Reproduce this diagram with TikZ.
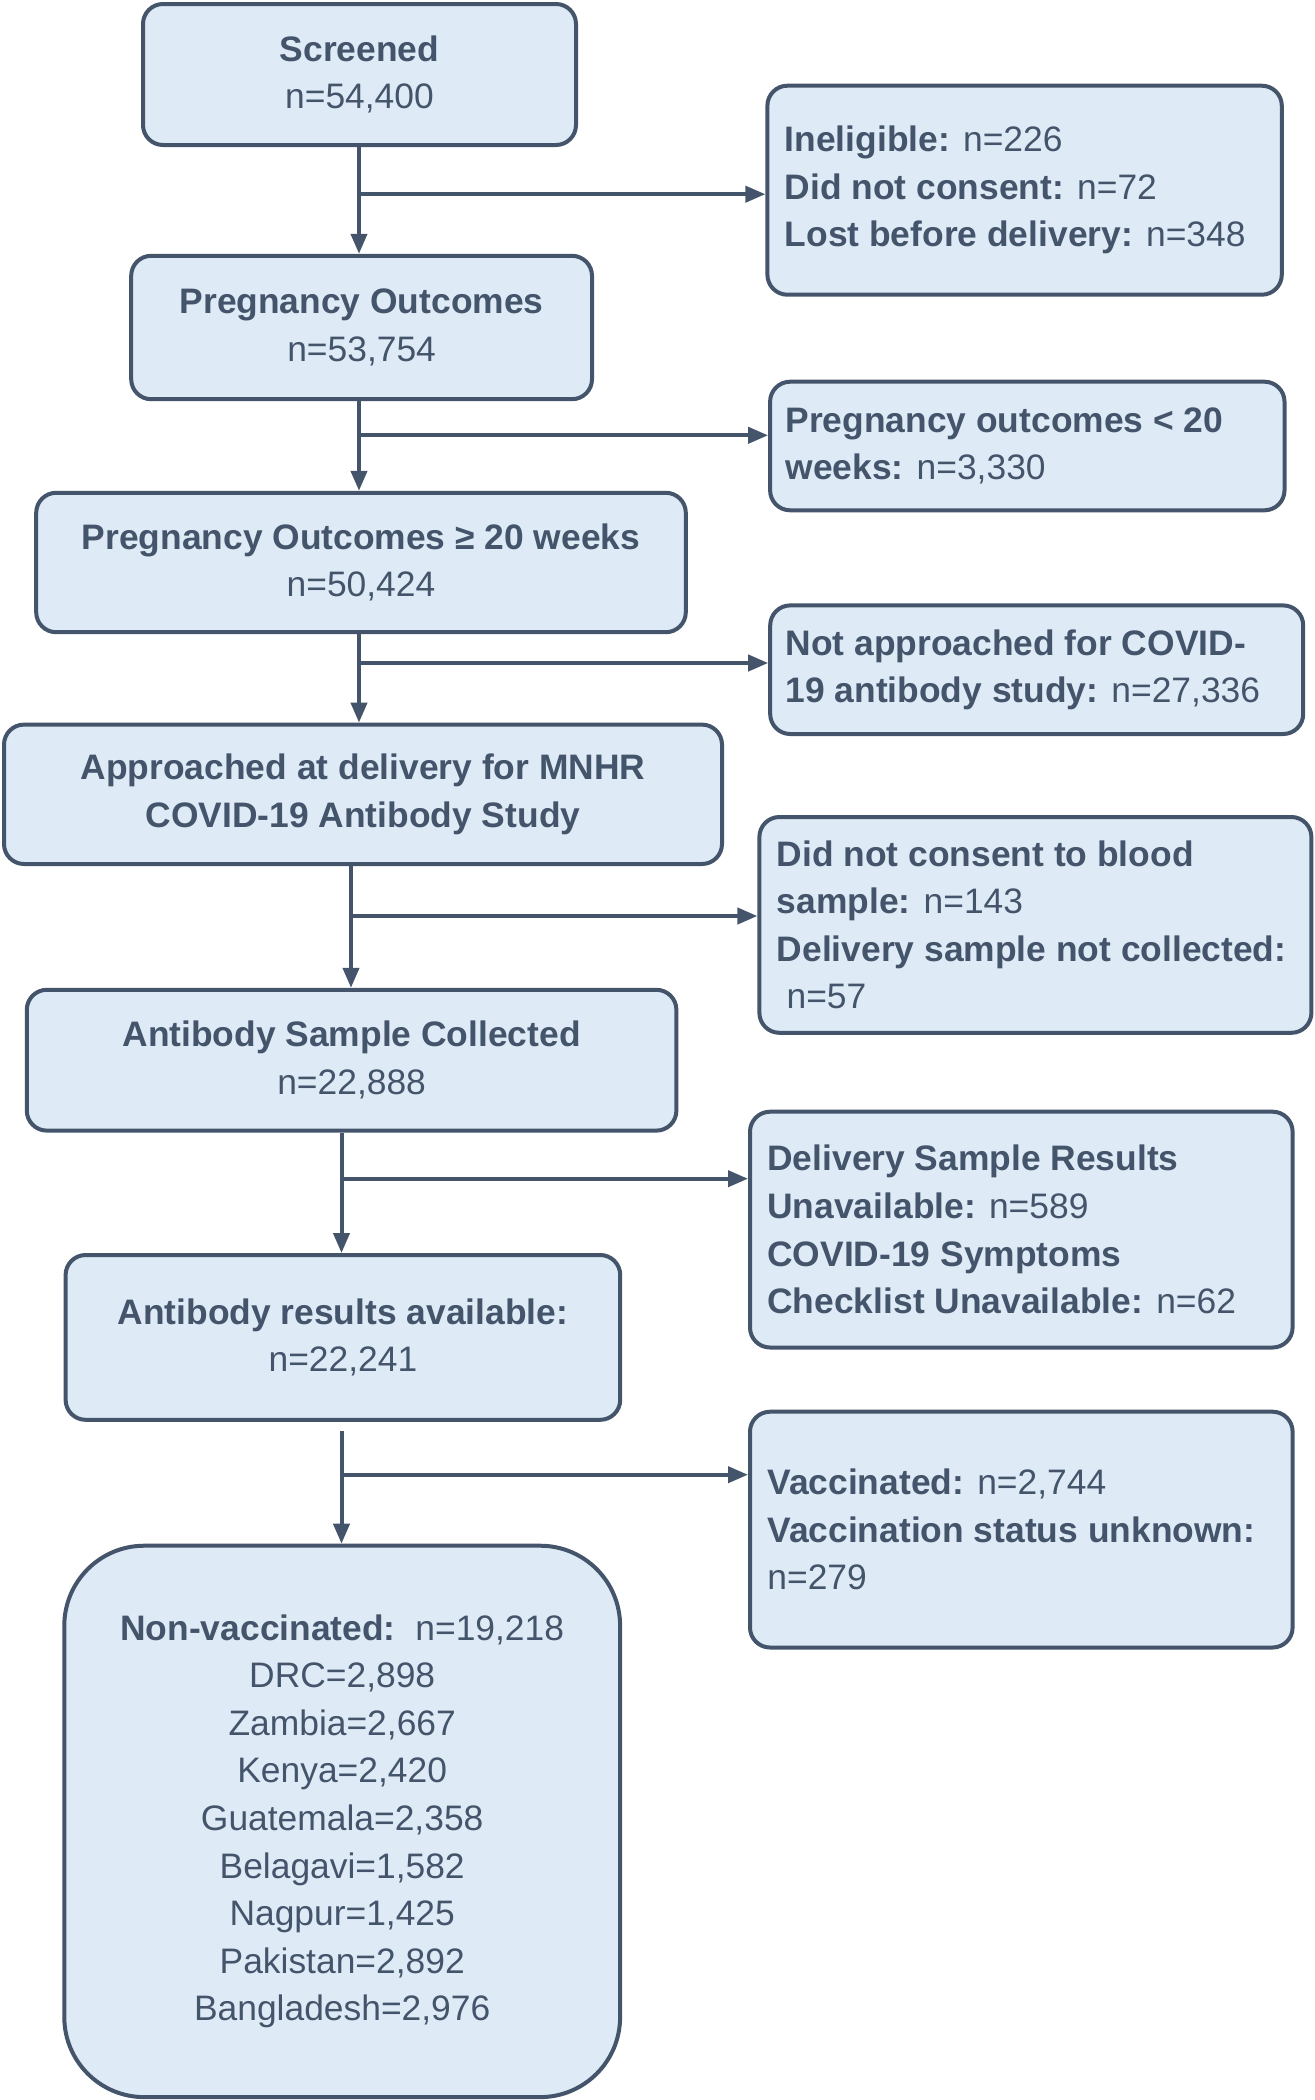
\documentclass[tikz,border=0pt]{standalone}
\usepackage{fontspec}
\setmainfont{Liberation Sans}
\usetikzlibrary{arrows.meta}
\definecolor{dark}{HTML}{44546A}
\definecolor{boxfill}{HTML}{DEEBF7}
\begin{document}
\begin{tikzpicture}[x=0.5pt,y=-0.5pt,
  fnt/.style={font=\fontsize{17.7pt}{23.8pt}\selectfont},
  box/.style={draw=dark,fill=boxfill,line width=2pt,rounded corners=10pt,
    inner sep=0pt,align=center,text=dark,fnt},
  sidetext/.style={anchor=west,inner sep=0pt,align=left,text=dark,fnt},
  arr/.style={draw=dark,line width=2pt,-{Triangle[length=10pt,width=8pt]}}]
\useasboundingbox (0,0) rectangle (1314,2100);
\fill[white] (0,0) rectangle (1314,2100);

% main boxes
\node[box,minimum width=216.5pt,minimum height=70.5pt] (scr) at (359.5,74.5)
  {\textbf{Screened}\\n=54,400};
\node[box,minimum width=230.4pt,minimum height=71.7pt] (po) at (361.6,327.5)
  {\textbf{Pregnancy Outcomes}\\n=53,754};
\node[box,minimum width=324.8pt,minimum height=69.7pt] (po20) at (361,562.5)
  {\textbf{Pregnancy Outcomes ≥ 20 weeks}\\n=50,424};
\node[box,minimum width=359pt,minimum height=69.7pt] (app) at (363,794.3)
  {\textbf{Approached at delivery for MNHR}\\\textbf{COVID-19 Antibody Study}};
\node[box,minimum width=324.8pt,minimum height=70.4pt] (abs) at (351.6,1060.2)
  {\textbf{Antibody Sample Collected}\\n=22,888};
\node[box,minimum width=277.3pt,minimum height=82.4pt] (abr) at (342.9,1337.4)
  {\textbf{Antibody results available:}\\n=22,241};
\node[box,rounded corners=40pt,minimum width=277.9pt,minimum height=275.7pt] (nv) at (342.2,1821.4)
  {\textbf{Non-vaccinated:}\ \ n=19,218\\DRC=2,898\\Zambia=2,667\\Kenya=2,420\\Guatemala=2,358\\Belagavi=1,582\\Nagpur=1,425\\Pakistan=2,892\\Bangladesh=2,976};

% side boxes
\node[box,minimum width=257.2pt,minimum height=104.5pt] (e1) at (1024.6,190.2) {};
\node[sidetext] (e1t) at ([xshift=9.5pt]e1.west)
  {\textbf{Ineligible:} n=226\\\textbf{Did not consent:} n=72\\\textbf{Lost before delivery:} n=348};
\node[box,minimum width=257.2pt,minimum height=64.3pt] (e2) at (1027.3,446) {};
\node[sidetext] (e2t) at ([xshift=8.5pt]e2.west)
  {\textbf{Pregnancy outcomes < 20}\\\textbf{weeks:} n=3,330};
\node[box,minimum width=266.5pt,minimum height=64.3pt] (e3) at (1036.7,669.7) {};
\node[sidetext] (e3t) at ([xshift=8.5pt]e3.west)
  {\textbf{Not approached for COVID-}\\\textbf{19 antibody study:} n=27,336};
\node[box,minimum width=276pt,minimum height=107.9pt] (e4) at (1035.4,924.9) {};
\node[sidetext] (e4t) at ([xshift=9.5pt]e4.west)
  {\textbf{Did not consent to blood}\\\textbf{sample:} n=143\\\textbf{Delivery sample not collected:}\\\ n=57};
\node[box,minimum width=271.3pt,minimum height=117.9pt] (e5) at (1021.3,1229.6) {};
\node[sidetext] (e5t) at ([xshift=9.5pt]e5.west)
  {\textbf{Delivery Sample Results}\\\textbf{Unavailable:} n=589\\\textbf{COVID-19 Symptoms}\\\textbf{Checklist Unavailable:} n=62};
\node[box,minimum width=271.3pt,minimum height=117.9pt] (e6) at (1021.3,1529.6) {};
\node[sidetext] (e6t) at ([xshift=9.5pt]e6.west)
  {\textbf{Vaccinated:} n=2,744\\\textbf{Vaccination status unknown:}\\n=279};

% connectors
\coordinate (c1) at (359,194.2);
\coordinate (c2) at (359,435.3);
\coordinate (c3) at (359,663);
\coordinate (c4) at (351,916);
\coordinate (c5) at (341.5,1178.7);
\coordinate (c6) at (341.5,1474.7);
\coordinate (s6) at (341.5,1430.5);

\draw[arr] (scr.south -| c1) -- (po.north -| c1);
\draw[arr] (c1) -- (c1 -| e1.west);
\draw[arr] (po.south -| c2) -- (po20.north -| c2);
\draw[arr] (c2) -- (c2 -| e2.west);
\draw[arr] (po20.south -| c3) -- (app.north -| c3);
\draw[arr] (c3) -- (c3 -| e3.west);
\draw[arr] (app.south -| c4) -- (abs.north -| c4);
\draw[arr] (c4) -- (c4 -| e4.west);
\draw[arr] (abs.south -| c5) -- (abr.north -| c5);
\draw[arr] (c5) -- (c5 -| e5.west);
\draw[arr] (s6) -- (nv.north -| c6);
\draw[arr] (c6) -- (c6 -| e6.west);
\end{tikzpicture}
\end{document}
